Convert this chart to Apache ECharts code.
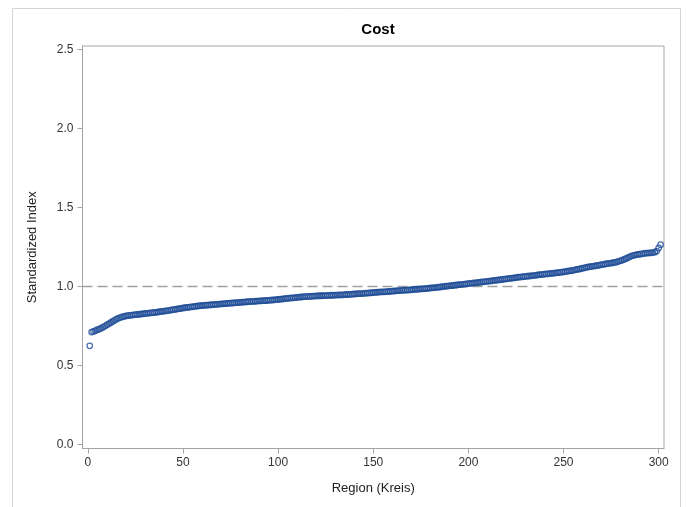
<!DOCTYPE html>
<html>
<head>
<meta charset="utf-8">
<script src="https://cdn.jsdelivr.net/npm/echarts@6/dist/echarts.min.js"></script>
<style>
  html, body { margin: 0; padding: 0; background: #fff; }
  #chart { width: 687px; height: 507px; }
</style>
</head>
<body>
<div id="chart"></div>
<script>
// Standardized cost index per region, sorted ascending (rank 1..301)
const costIndex = [
  0.625, 0.712, 0.716, 0.721, 0.727, 0.731, 0.737, 0.743, 0.750, 0.757,
  0.764, 0.771, 0.779, 0.786, 0.794, 0.799, 0.804, 0.808, 0.811, 0.814,
  0.816, 0.818, 0.819, 0.821, 0.822, 0.824, 0.825, 0.826, 0.828, 0.829,
  0.830, 0.832, 0.833, 0.835, 0.836, 0.837, 0.839, 0.841, 0.843, 0.845,
  0.846, 0.848, 0.850, 0.852, 0.854, 0.856, 0.858, 0.860, 0.862, 0.865,
  0.866, 0.868, 0.869, 0.871, 0.872, 0.874, 0.876, 0.877, 0.879, 0.880,
  0.881, 0.882, 0.883, 0.884, 0.885, 0.886, 0.887, 0.888, 0.889, 0.890,
  0.891, 0.892, 0.893, 0.894, 0.895, 0.896, 0.897, 0.898, 0.899, 0.900,
  0.901, 0.902, 0.903, 0.904, 0.905, 0.906, 0.906, 0.907, 0.908, 0.909,
  0.910, 0.911, 0.911, 0.912, 0.913, 0.914, 0.915, 0.916, 0.917, 0.919,
  0.920, 0.921, 0.923, 0.924, 0.925, 0.927, 0.928, 0.929, 0.930, 0.932,
  0.933, 0.934, 0.935, 0.936, 0.937, 0.938, 0.938, 0.939, 0.940, 0.941,
  0.941, 0.942, 0.942, 0.943, 0.943, 0.944, 0.944, 0.945, 0.945, 0.946,
  0.946, 0.947, 0.947, 0.948, 0.949, 0.950, 0.950, 0.951, 0.952, 0.953,
  0.954, 0.955, 0.955, 0.956, 0.957, 0.958, 0.959, 0.960, 0.961, 0.962,
  0.963, 0.964, 0.965, 0.966, 0.967, 0.967, 0.968, 0.969, 0.970, 0.971,
  0.972, 0.973, 0.974, 0.975, 0.976, 0.977, 0.977, 0.978, 0.979, 0.980,
  0.981, 0.982, 0.983, 0.984, 0.985, 0.986, 0.987, 0.988, 0.989, 0.991,
  0.992, 0.993, 0.994, 0.996, 0.997, 0.999, 1.000, 1.002, 1.003, 1.005,
  1.006, 1.007, 1.009, 1.010, 1.012, 1.013, 1.014, 1.016, 1.017, 1.019,
  1.020, 1.022, 1.023, 1.024, 1.026, 1.027, 1.029, 1.030, 1.032, 1.033,
  1.035, 1.036, 1.038, 1.039, 1.041, 1.042, 1.044, 1.046, 1.047, 1.049,
  1.050, 1.052, 1.054, 1.055, 1.057, 1.059, 1.060, 1.061, 1.063, 1.064,
  1.066, 1.067, 1.068, 1.070, 1.071, 1.073, 1.075, 1.076, 1.077, 1.079,
  1.080, 1.081, 1.083, 1.084, 1.085, 1.087, 1.088, 1.090, 1.091, 1.093,
  1.095, 1.097, 1.099, 1.101, 1.103, 1.106, 1.108, 1.110, 1.113, 1.116,
  1.119, 1.122, 1.124, 1.126, 1.128, 1.130, 1.132, 1.134, 1.136, 1.139,
  1.141, 1.143, 1.145, 1.147, 1.149, 1.151, 1.153, 1.156, 1.160, 1.164,
  1.168, 1.173, 1.178, 1.184, 1.190, 1.195, 1.198, 1.201, 1.203, 1.205,
  1.207, 1.209, 1.211, 1.212, 1.213, 1.214, 1.215, 1.218, 1.225, 1.245,
  1.265
];

// Reference level of the index
const referenceLevel = 1.0;

// Tick values on both axes
const xTicks = [0, 50, 100, 150, 200, 250, 300];
const yTicks = [0.0, 0.5, 1.0, 1.5, 2.0, 2.5];

const FONT = '"Liberation Sans", Arial, sans-serif';
const AXIS_GRAY = '#a5a5a5';
const MARK_BLUE = '#1d4b96';

const points = costIndex.map((v, i) => [i + 1, v]);

const chart = echarts.init(document.getElementById('chart'), null, { renderer: 'canvas' });

chart.setOption({
  animation: false,
  backgroundColor: '#fff',
  title: {
    text: 'Cost',
    left: 373,
    textAlign: 'center',
    top: 17,
    textStyle: { fontFamily: FONT, fontSize: 15, fontWeight: 'bold', color: '#000' }
  },
  graphic: [{
    type: 'rect',
    shape: { x: 12.5, y: 8.5, width: 668, height: 520 },
    style: { fill: 'none', stroke: '#d4d4d4', lineWidth: 1 },
    silent: true,
    z: -1
  }],
  grid: {
    left: 82.5,
    right: 23,
    top: 46,
    bottom: 58.5,
    show: true,
    borderColor: AXIS_GRAY,
    borderWidth: 1
  },
  xAxis: {
    type: 'value',
    min: -2.8,
    max: 302.8,
    name: 'Region (Kreis)',
    nameLocation: 'middle',
    nameGap: 33,
    nameTextStyle: { fontFamily: FONT, fontSize: 13, color: '#222' },
    axisLine: { show: true, onZero: false, lineStyle: { color: AXIS_GRAY } },
    axisTick: { show: true, length: 5, customValues: xTicks, lineStyle: { color: AXIS_GRAY } },
    axisLabel: {
      customValues: xTicks,
      margin: 8,
      fontFamily: FONT, fontSize: 12, color: '#333'
    },
    splitLine: { show: false }
  },
  yAxis: {
    type: 'value',
    min: -0.025,
    max: 2.523,
    name: 'Standardized Index',
    nameLocation: 'middle',
    nameGap: 44,
    nameRotate: 90,
    nameTextStyle: { fontFamily: FONT, fontSize: 13, color: '#222' },
    axisLine: { show: true, onZero: false, lineStyle: { color: AXIS_GRAY } },
    axisTick: { show: true, length: 5, customValues: yTicks, lineStyle: { color: AXIS_GRAY } },
    axisLabel: {
      customValues: yTicks,
      margin: 9,
      formatter: v => v.toFixed(1),
      fontFamily: FONT, fontSize: 12, color: '#333'
    },
    splitLine: { show: false }
  },
  series: [{
    type: 'scatter',
    data: points,
    symbol: 'circle',
    symbolSize: 5.5,
    itemStyle: { color: 'rgba(0,0,0,0)', borderColor: MARK_BLUE, borderWidth: 1.3 },
    markLine: {
      silent: true,
      symbol: ['none', 'none'],
      label: { show: false },
      lineStyle: { color: '#a0a0a0', type: [10, 5], width: 1.3 },
      data: [{ yAxis: referenceLevel }],
      z: 1
    },
    z: 2
  }]
});
</script>
</body>
</html>
